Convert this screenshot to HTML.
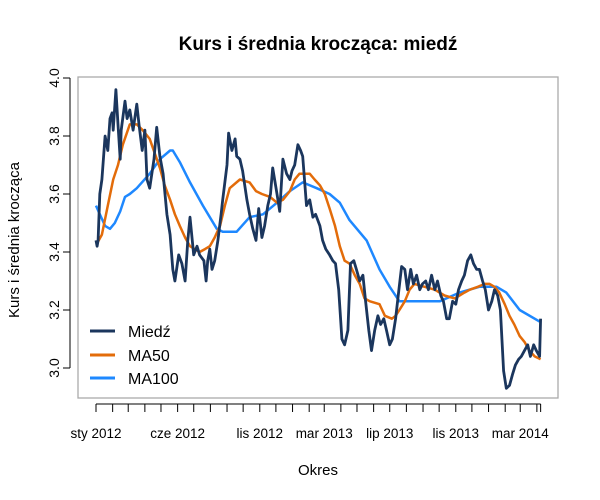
<!DOCTYPE html>
<html><head><meta charset="utf-8">
<style>
body{margin:0;background:#fff;}
svg{display:block;font-family:"Liberation Sans",Arial,sans-serif;}
</style></head>
<body>
<svg id="chart" width="600" height="500" viewBox="0 0 600 500">
  <rect x="0" y="0" width="600" height="500" fill="#fff"/>
  <text x="318" y="50" text-anchor="middle" font-size="19" font-weight="bold" fill="#000">Kurs i średnia krocząca: miedź</text>
  <text x="0" y="0" transform="translate(19,240) rotate(-90)" text-anchor="middle" font-size="15" fill="#000">Kurs i średnia krocząca</text>
  <text x="318" y="475" text-anchor="middle" font-size="15" fill="#000">Okres</text>
  <rect x="78" y="77" width="480" height="321" fill="none" stroke="#aaa" stroke-width="1.3"/>
  <g id="yaxis"></g>
  <g id="xaxis"></g>
  <g id="series"></g>
  <g>
    <line x1="90" y1="331" x2="115" y2="331" stroke="#1b365d" stroke-width="3"/>
    <text x="128" y="337" font-size="16">Miedź</text>
    <line x1="90" y1="355" x2="115" y2="355" stroke="#e36c0a" stroke-width="3"/>
    <text x="128" y="361" font-size="16">MA50</text>
    <line x1="90" y1="378" x2="115" y2="378" stroke="#1e88ff" stroke-width="3"/>
    <text x="128" y="384" font-size="16">MA100</text>
  </g>
</svg>
<script>
// days since 2012-01-01, values
const priceDays=[0,2,4,7,11,17,22,26,30,32,37,41,45,47,54,58,63,69,76,80,86,91,95,100,108,113,119,125,132,138,143,147,154,160,166,171,175,182,188,193,201,205,208,212,216,221,227,233,236,244,247,253,259,262,268,273,281,286,292,298,303,309,314,320,325,329,337,342,348,355,361,365,370,376,381,385,392,398,404,409,417,422,428,435,441,446,452,458,463,469,474,480,485,491,497,502,508,513,519,525,530,536,541,547,552,558,564,569,575,580,586,591,597,603,608,614,619,625,631,636,642,647,653,658,664,670,675,681,686,692,698,703,709,714,720,725,731,737,742,748,753,759,764,770,776,781,787,792,798,804,809,815,820,826,828];
const priceVals=[3.44,3.42,3.44,3.60,3.65,3.80,3.75,3.86,3.88,3.82,3.96,3.84,3.72,3.82,3.92,3.86,3.89,3.82,3.91,3.84,3.75,3.82,3.65,3.62,3.72,3.83,3.73,3.67,3.53,3.46,3.34,3.30,3.39,3.36,3.30,3.44,3.52,3.39,3.42,3.39,3.37,3.30,3.37,3.41,3.34,3.37,3.44,3.53,3.58,3.70,3.81,3.75,3.79,3.73,3.72,3.68,3.58,3.53,3.48,3.44,3.55,3.45,3.49,3.56,3.60,3.69,3.60,3.54,3.72,3.67,3.65,3.68,3.70,3.77,3.75,3.73,3.56,3.58,3.52,3.53,3.49,3.44,3.41,3.39,3.37,3.36,3.27,3.10,3.08,3.13,3.36,3.37,3.34,3.30,3.32,3.23,3.13,3.06,3.13,3.18,3.15,3.17,3.13,3.08,3.10,3.17,3.27,3.35,3.34,3.27,3.34,3.29,3.32,3.27,3.29,3.30,3.27,3.32,3.27,3.30,3.25,3.23,3.17,3.17,3.23,3.22,3.27,3.30,3.32,3.37,3.39,3.36,3.34,3.34,3.30,3.27,3.20,3.23,3.27,3.25,3.20,2.99,2.93,2.94,2.98,3.01,3.03,3.04,3.06,3.08,3.04,3.08,3.06,3.04,3.17];
const ma50Days=[2,11,22,32,41,50,63,76,87,100,119,128,138,147,156,166,175,184,193,203,212,221,231,240,249,268,286,298,309,324,337,348,361,370,379,398,407,417,426,435,445,454,463,472,482,491,500,510,528,538,551,558,565,575,584,593,612,631,649,668,677,686,696,711,724,733,742,751,761,770,779,789,798,807,817,828];
const ma50Vals=[3.43,3.46,3.56,3.65,3.70,3.77,3.84,3.84,3.82,3.79,3.69,3.63,3.58,3.53,3.49,3.45,3.42,3.41,3.40,3.41,3.42,3.45,3.49,3.56,3.62,3.65,3.64,3.61,3.60,3.59,3.57,3.58,3.61,3.65,3.67,3.67,3.65,3.63,3.60,3.55,3.49,3.42,3.37,3.36,3.32,3.29,3.24,3.23,3.22,3.18,3.17,3.18,3.20,3.23,3.27,3.29,3.28,3.27,3.25,3.24,3.25,3.26,3.27,3.28,3.29,3.29,3.28,3.26,3.22,3.18,3.15,3.11,3.09,3.06,3.04,3.03];
const ma100Days=[0,7,17,26,35,45,54,63,76,100,119,138,143,156,175,199,225,236,262,286,311,337,361,385,411,435,454,472,504,528,547,565,603,640,677,714,746,764,789,826];
const ma100Vals=[3.56,3.53,3.49,3.48,3.50,3.54,3.59,3.60,3.62,3.67,3.72,3.75,3.75,3.71,3.64,3.56,3.48,3.47,3.47,3.52,3.53,3.57,3.61,3.64,3.62,3.60,3.57,3.51,3.44,3.34,3.28,3.23,3.23,3.23,3.26,3.28,3.28,3.26,3.20,3.16];
const yTicks=[3.0,3.2,3.4,3.6,3.8,4.0];
const xTickDays=[0,31,60,91,121,152,182,213,244,274,305,335,366,397,425,456,486,517,547,578,609,639,670,700,731,762,790,821,828];
const xLabelDays=[0,152,305,425,547,670,790];
const xLabels=["sty 2012","cze 2012","lis 2012","mar 2013","lip 2013","lis 2013","mar 2014"];

const NS="http://www.w3.org/2000/svg";
function xS(d){return 96+d*0.537;}
function yS(v){return 368-(v-3)*290;}
function mk(tag,attrs,parent){const e=document.createElementNS(NS,tag);for(const k in attrs)e.setAttribute(k,attrs[k]);parent.appendChild(e);return e;}

const ya=document.getElementById('yaxis');
const yl=mk('line',{x1:70,x2:70,y1:yS(yTicks[0]),y2:yS(yTicks[yTicks.length-1]),stroke:'#000','stroke-width':1},ya);


yTicks.forEach(v=>{
  const t=mk('line',{x1:63,x2:70,y1:yS(v),y2:yS(v),stroke:'#000','stroke-width':1},ya);
  
  
  const tx=mk('text',{transform:`translate(59,${yS(v)}) rotate(-90)`,'text-anchor':'middle','font-size':14},ya);
  tx.textContent=v.toFixed(1);
  
  
});

const xa=document.getElementById('xaxis');
const xl=mk('line',{x1:xS(xTickDays[0]),x2:xS(xTickDays[xTickDays.length-1]),y1:404,y2:404,stroke:'#000','stroke-width':1},xa);


xTickDays.forEach(d=>{
  const t=mk('line',{x1:xS(d),x2:xS(d),y1:404,y2:412,stroke:'#000','stroke-width':1},xa);
  
  
});
xLabelDays.forEach((d,i)=>{
  const tx=mk('text',{x:xS(d),y:438,'text-anchor':'middle','font-size':13.5},xa);
  tx.textContent=xLabels[i];
  
  
});

const sg=document.getElementById('series');
function line(days,vals,color,w,name){
  const pts=days.map((d,i)=>xS(d).toFixed(1)+','+yS(vals[i]).toFixed(1)).join(' ');
  const p=mk('polyline',{points:pts,fill:'none',stroke:color,'stroke-width':w,'stroke-linejoin':'round'},sg);
  
  
}
line(ma100Days,ma100Vals,'#1e88ff',2.5,'ma100-line');
line(ma50Days,ma50Vals,'#e36c0a',2.5,'ma50-line');
line(priceDays,priceVals,'#1b365d',2.8,'miedz-line');
</script>
</body></html>
